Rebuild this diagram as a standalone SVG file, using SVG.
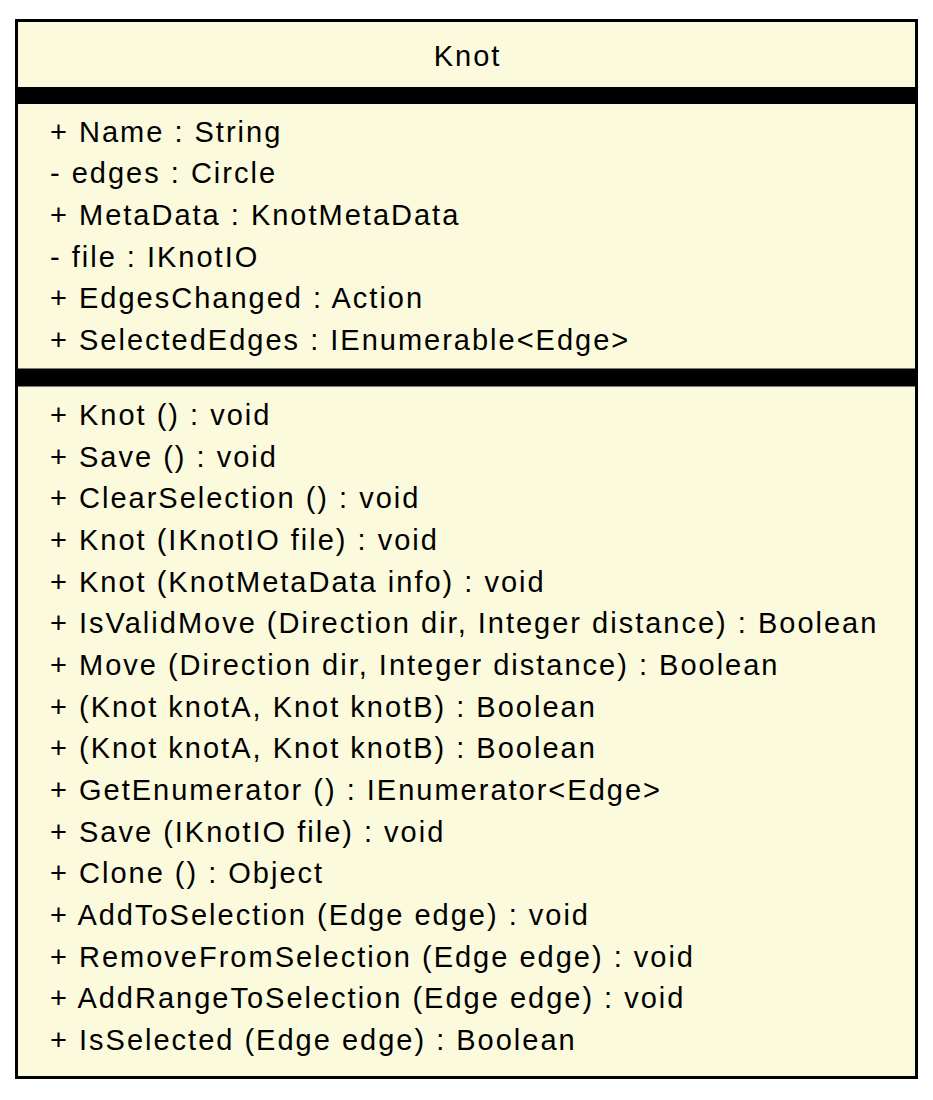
<svg xmlns="http://www.w3.org/2000/svg" width="933" height="1100" viewBox="0 0 933 1100">
<style>
.t{font-family:"Liberation Sans",Arial,sans-serif;font-size:29px;letter-spacing:2px;fill:#000}
.bar{fill:#000}
</style>
<rect width="933" height="1100" fill="#fff"/>
<g id="knot">
<rect x="16.5" y="20.5" width="900" height="1057" fill="#FBFADC" stroke="#000" stroke-width="3"/>
<text class="t" x="467.5" y="66" text-anchor="middle">Knot</text>
<rect class="bar" x="16.5" y="87" width="900" height="17"/>
<text class="t" x="50" y="141.5">+ Name : String</text>
<text class="t" x="50" y="183.2">- edges : Circle</text>
<text class="t" x="50" y="224.9">+ MetaData : KnotMetaData</text>
<text class="t" x="50" y="266.6">- file : IKnotIO</text>
<text class="t" x="50" y="308.3">+ EdgesChanged : Action</text>
<text class="t" x="50" y="350">+ SelectedEdges : IEnumerable&lt;Edge&gt;</text>
<rect class="bar" x="16.5" y="368.5" width="900" height="18"/>
<text class="t" x="50" y="425">+ Knot () : void</text>
<text class="t" x="50" y="466.7">+ Save () : void</text>
<text class="t" x="50" y="508.3">+ ClearSelection () : void</text>
<text class="t" x="50" y="550">+ Knot (IKnotIO file) : void</text>
<text class="t" x="50" y="591.7">+ Knot (KnotMetaData info) : void</text>
<text class="t" x="50" y="633.3">+ IsValidMove (Direction dir, Integer distance) : Boolean</text>
<text class="t" x="50" y="675">+ Move (Direction dir, Integer distance) : Boolean</text>
<text class="t" x="50" y="716.7">+ (Knot knotA, Knot knotB) : Boolean</text>
<text class="t" x="50" y="758.3">+ (Knot knotA, Knot knotB) : Boolean</text>
<text class="t" x="50" y="800">+ GetEnumerator () : IEnumerator&lt;Edge&gt;</text>
<text class="t" x="50" y="841.7">+ Save (IKnotIO file) : void</text>
<text class="t" x="50" y="883.3">+ Clone () : Object</text>
<text class="t" x="50" y="925">+ AddToSelection (Edge edge) : void</text>
<text class="t" x="50" y="966.7">+ RemoveFromSelection (Edge edge) : void</text>
<text class="t" x="50" y="1008.3">+ AddRangeToSelection (Edge edge) : void</text>
<text class="t" x="50" y="1050">+ IsSelected (Edge edge) : Boolean</text>
</g>
<g id="connectors"/>
</svg>
